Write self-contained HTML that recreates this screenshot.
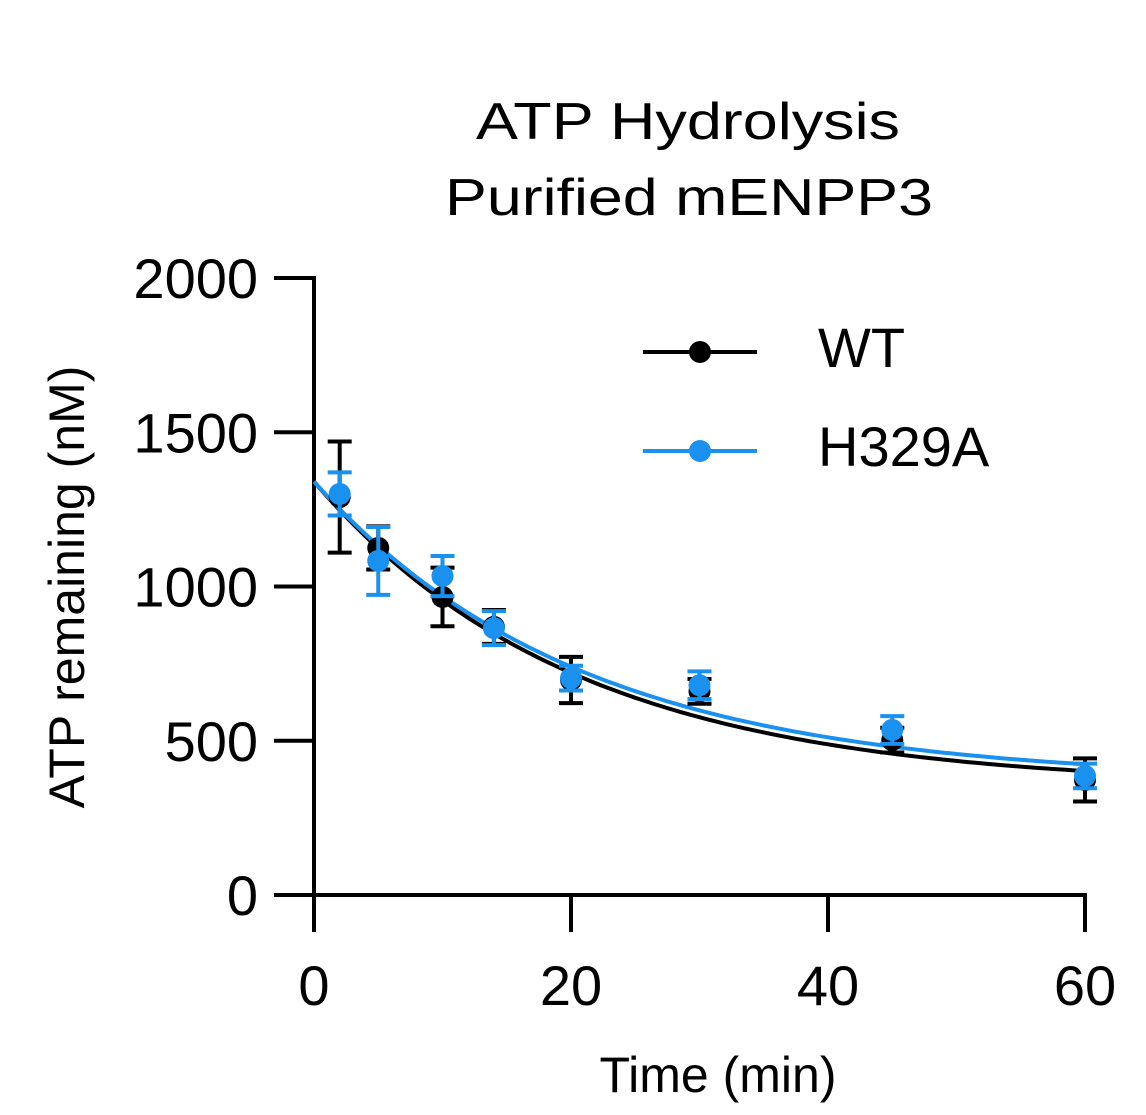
<!DOCTYPE html>
<html><head><meta charset="utf-8"><style>
html,body{margin:0;padding:0;background:#fff;}
svg{display:block;font-family:"Liberation Sans",Arial,sans-serif;}
</style></head><body>
<svg id="chart" width="1146" height="1115" viewBox="0 0 1146 1115" xmlns="http://www.w3.org/2000/svg">
<rect width="1146" height="1115" fill="#fff"/>
<text x="688" y="139" font-size="52" text-anchor="middle" textLength="424" lengthAdjust="spacingAndGlyphs">ATP Hydrolysis</text>
<text x="689" y="215" font-size="52" text-anchor="middle" textLength="488" lengthAdjust="spacingAndGlyphs">Purified mENPP3</text>
<text transform="translate(84,587) rotate(-90)" font-size="50" text-anchor="middle">ATP remaining (nM)</text>
<text x="718" y="1092" font-size="50" text-anchor="middle">Time (min)</text>
<g id="axes"></g>
<g id="curves"></g>
<g id="points"></g>
<g>
<line x1="643" y1="352" x2="757" y2="352" stroke="#000" stroke-width="4"/>
<circle cx="700" cy="352" r="11" fill="#000"/>
<text x="818" y="367" font-size="56">WT</text>
<line x1="643" y1="451" x2="757" y2="451" stroke="#1a90ef" stroke-width="4"/>
<circle cx="700" cy="451" r="11" fill="#1a90ef"/>
<text x="818" y="466" font-size="56">H329A</text>
</g>
</svg>
<script>
const times = [2, 5, 10, 14, 20, 30, 45, 60];
const wtMean = [1290, 1125, 966, 869, 697, 660, 502, 373];
const wtErr = [180, 70, 95, 55, 75, 40, 40, 70];
const mutMean = [1300, 1083, 1034, 865, 703, 680, 535, 386];
const mutErr = [70, 110, 65, 55, 40, 45, 45, 40];
const wtFit = [1340, 350, 0.0492];   // y0, plateau, k
const mutFit = [1340, 370, 0.0482];
const xTicks = [0, 20, 40, 60];
const yTicks = [0, 500, 1000, 1500, 2000];

const NS = "http://www.w3.org/2000/svg";
const X = t => 314 + (t - 0) * (1085 - 314) / 60;
const Y = v => 895 - v * (895 - 278) / 2000;
function mk(tag, attrs, parent) {
  const e = document.createElementNS(NS, tag);
  for (const k in attrs) e.setAttribute(k, attrs[k]);
  parent.appendChild(e);
  return e;
}
const axes = document.getElementById('axes');
let a = mk('line', {x1: 314, y1: 276, x2: 314, y2: 897, stroke: '#000', 'stroke-width': 4}, axes);


a = mk('line', {x1: 274, y1: 895, x2: 1087, y2: 895, stroke: '#000', 'stroke-width': 4}, axes);


yTicks.forEach(v => {
  const l = mk('line', {x1: 274, y1: Y(v), x2: 314, y2: Y(v), stroke: '#000', 'stroke-width': 4}, axes);
  
  
  const t = mk('text', {x: 258, y: Y(v) + 20, 'font-size': 56, 'text-anchor': 'end'}, axes);
  t.textContent = v;
  
  
});
xTicks.forEach(v => {
  const l = mk('line', {x1: X(v), y1: 895, x2: X(v), y2: 932, stroke: '#000', 'stroke-width': 4}, axes);
  
  
  const t = mk('text', {x: X(v), y: 1005, 'font-size': 56, 'text-anchor': 'middle'}, axes);
  t.textContent = v;
  
  
});
const curves = document.getElementById('curves');
function curve(fit, color, name) {
  let d = '';
  for (let i = 0; i <= 120; i++) {
    const t = i * 0.5;
    const v = fit[1] + (fit[0] - fit[1]) * Math.exp(-fit[2] * t);
    d += (i ? 'L' : 'M') + X(t).toFixed(1) + ',' + Y(v).toFixed(1);
  }
  const p = mk('path', {d: d, fill: 'none', stroke: color, 'stroke-width': 4}, curves);
  
  
}
curve(wtFit, '#000', 'wt-fit-curve');
curve(mutFit, '#1a90ef', 'h329a-fit-curve');
const pts = document.getElementById('points');
function series(mean, err, color, name) {
  times.forEach((t, i) => {
    const g = mk('g', {}, pts);
    
    
    const x = X(t), y1 = Y(mean[i] + err[i]), y2 = Y(mean[i] - err[i]);
    mk('line', {x1: x, y1: y1, x2: x, y2: y2, stroke: color, 'stroke-width': 4}, g);
    mk('line', {x1: x - 12, y1: y1, x2: x + 12, y2: y1, stroke: color, 'stroke-width': 4}, g);
    mk('line', {x1: x - 12, y1: y2, x2: x + 12, y2: y2, stroke: color, 'stroke-width': 4}, g);
    mk('circle', {cx: x, cy: Y(mean[i]), r: 11, fill: color}, g);
  });
}
series(wtMean, wtErr, '#000', 'wt');
series(mutMean, mutErr, '#1a90ef', 'h329a');
</script>
</body></html>
